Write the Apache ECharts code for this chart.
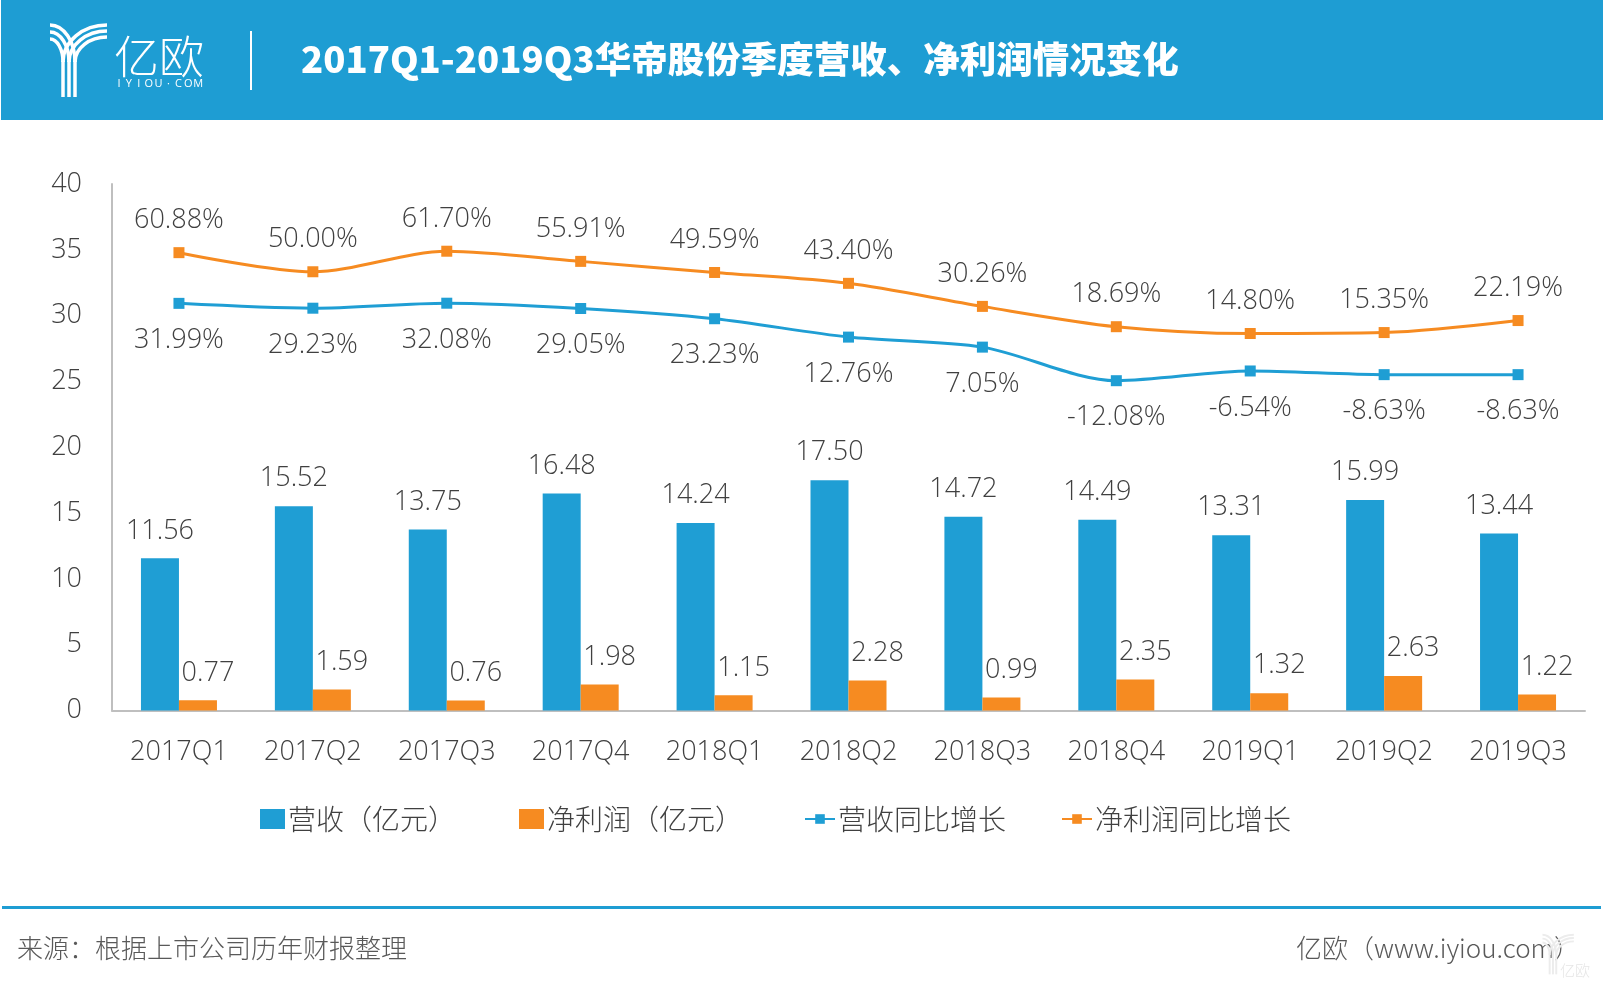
<!DOCTYPE html>
<html><head><meta charset="utf-8">
<script src="https://cdn.jsdelivr.net/npm/echarts/dist/echarts.min.js"></script>
<style>html,body{margin:0;padding:0;background:#fff}#c{width:1603px;height:986px}</style>
</head><body><div id="c"></div>
<script>
const categories = ['2017Q1','2017Q2','2017Q3','2017Q4','2018Q1','2018Q2','2018Q3','2018Q4','2019Q1','2019Q2','2019Q3'];
const revenue = [11.56, 15.52, 13.75, 16.48, 14.24, 17.50, 14.72, 14.49, 13.31, 15.99, 13.44];
const profit = [0.77, 1.59, 0.76, 1.98, 1.15, 2.28, 0.99, 2.35, 1.32, 2.63, 1.22];
const revenueGrowth = [31.99, 29.23, 32.08, 29.05, 23.23, 12.76, 7.05, -12.08, -6.54, -8.63, -8.63];
const profitGrowth = [60.88, 50.00, 61.70, 55.91, 49.59, 43.40, 30.26, 18.69, 14.80, 15.35, 22.19];
const seriesNames = ['营收（亿元）', '净利润（亿元）', '营收同比增长', '净利润同比增长'];
const titleText = '2017Q1-2019Q3华帝股份季度营收、净利润情况变化';
const sourceText = '来源：根据上市公司历年财报整理';
const siteText = '亿欧（www.iyiou.com）';
const brandText = '亿欧';
const brandSub = 'IYIOU·COM';

const BLUE = '#1f9ed4', ORANGE = '#f68b21', TXT = '#404040';
const NUM_FONT = "'Open Sans','Noto Sans CJK SC',sans-serif";
const CJK_FONT = "'Noto Sans CJK SC','Open Sans',sans-serif";

const chart = echarts.init(document.getElementById('c'), null, {renderer: 'canvas'});

// logo: a "Y" drawn with three parallel strokes
function logoParts(color, lw) {
  const parts = [];
  const k = 0.5523, cy = 62;
  const stems = [63, 69, 75];
  for (let i = 0; i < 3; i++) {
    const sx = stems[i];
    parts.push({type: 'line', shape: {x1: sx, y1: cy - 1, x2: sx, y2: 97}, style: {stroke: color, lineWidth: lw}});
    // right arm (leftmost stem is outermost)
    const rrx = 107 - sx, rry = 37 - 6 * i;
    parts.push({type: 'bezierCurve', shape: {x1: sx, y1: cy, cpx1: sx, cpy1: cy - k * rry, cpx2: 107 - k * rrx, cpy2: cy - rry, x2: 107, y2: cy - rry}, style: {stroke: color, lineWidth: lw, fill: null}});
    // left arm (rightmost stem is outermost)
    const lrx = sx - 50, lry = 23 + 7 * i;
    parts.push({type: 'bezierCurve', shape: {x1: sx, y1: cy, cpx1: sx, cpy1: cy - k * lry, cpx2: 50 + k * lrx, cpy2: cy - lry, x2: 50, y2: cy - lry}, style: {stroke: color, lineWidth: lw, fill: null}});
  }
  return parts;
}

const subChars = [];
for (let i = 0; i < brandSub.length; i++) {
  subChars.push({type: 'text', style: {x: 119 + i * 9.9, y: 84, text: brandSub[i], font: "11px 'Open Sans'", fill: '#fff', textAlign: 'center', align: 'center', textVerticalAlign: 'middle', verticalAlign: 'middle'}});
}

const legendBase = {
  orient: 'horizontal', itemGap: 0,
  textStyle: {fontSize: 28, color: TXT, fontFamily: CJK_FONT, fontWeight: 300, padding: [0, 0, 0, -2]}
};

chart.setOption({
  animation: false,
  backgroundColor: '#fff',
  grid: {left: 112, right: 18, top: 184, bottom: 275.5, containLabel: false},
  xAxis: {
    type: 'category', data: categories,
    axisLine: {show: true, lineStyle: {color: '#bfbfbf', width: 2}},
    axisTick: {show: false},
    axisLabel: {fontSize: 27, color: TXT, fontFamily: NUM_FONT, fontWeight: 300, margin: 28}
  },
  yAxis: [{
    type: 'value', min: 0, max: 40, interval: 5,
    axisLine: {show: true, lineStyle: {color: '#bfbfbf', width: 2}},
    axisTick: {show: false},
    splitLine: {show: false},
    axisLabel: {fontSize: 27, color: TXT, fontFamily: NUM_FONT, fontWeight: 300, margin: 30}
  }, {
    type: 'value', min: -200, max: 100, show: false, splitLine: {show: false}
  }],
  legend: [
    Object.assign({}, legendBase, {left: 255, top: 800, data: [{name: seriesNames[0], icon: 'rect'}], itemWidth: 25, itemHeight: 20}),
    Object.assign({}, legendBase, {left: 514, top: 800, data: [{name: seriesNames[1], icon: 'rect'}], itemWidth: 25, itemHeight: 20}),
    Object.assign({}, legendBase, {left: 799, top: 800, data: [seriesNames[2]], itemWidth: 30, itemHeight: 12}),
    Object.assign({}, legendBase, {left: 1056, top: 800, data: [seriesNames[3]], itemWidth: 30, itemHeight: 12})
  ],
  series: [
    {
      name: seriesNames[0], type: 'bar', data: revenue, barWidth: 38, barGap: '0%',
      itemStyle: {color: BLUE},
      label: {show: true, position: 'top', distance: 14, fontSize: 27, color: TXT, fontFamily: NUM_FONT, fontWeight: 300,
        formatter: p => p.value.toFixed(2)}
    },
    {
      name: seriesNames[1], type: 'bar', data: profit, barWidth: 38,
      itemStyle: {color: ORANGE},
      label: {show: true, position: 'top', distance: 14, offset: [10, 0], fontSize: 27, color: TXT, fontFamily: NUM_FONT, fontWeight: 300,
        formatter: p => p.value.toFixed(2)}
    },
    {
      name: seriesNames[2], type: 'line', yAxisIndex: 1, data: revenueGrowth, smooth: 0.3,
      symbol: 'rect', symbolSize: 11, showAllSymbol: true,
      lineStyle: {color: BLUE, width: 3}, itemStyle: {color: BLUE},
      label: {show: true, position: 'bottom', distance: 18, fontSize: 27, color: TXT, fontFamily: NUM_FONT, fontWeight: 300,
        formatter: p => p.value.toFixed(2) + '%'}
    },
    {
      name: seriesNames[3], type: 'line', yAxisIndex: 1, data: profitGrowth, smooth: 0.3,
      symbol: 'rect', symbolSize: 11, showAllSymbol: true,
      lineStyle: {color: ORANGE, width: 3}, itemStyle: {color: ORANGE},
      label: {show: true, position: 'top', distance: 13, fontSize: 27, color: TXT, fontFamily: NUM_FONT, fontWeight: 300,
        formatter: p => p.value.toFixed(2) + '%'}
    }
  ],
  graphic: [
    {type: 'rect', shape: {x: 1, y: 0, width: 1602, height: 120}, style: {fill: '#1e9dd3'}, z: -1},
    {type: 'group', children: logoParts('#fff', 3.5)},
    {type: 'text', style: {x: 114, y: 57, text: brandText, font: "200 45px 'Noto Sans CJK SC'", fill: '#fff', textVerticalAlign: 'middle', verticalAlign: 'middle'}},
    {type: 'group', children: subChars},
    {type: 'line', shape: {x1: 251, y1: 31, x2: 251, y2: 90}, style: {stroke: '#fff', lineWidth: 2}},
    {type: 'text', style: {x: 301, y: 59, text: titleText, font: "900 36.5px 'Noto Sans CJK SC'", fill: '#fff', textVerticalAlign: 'middle', verticalAlign: 'middle'}},
    {type: 'rect', shape: {x: 2, y: 906, width: 1599, height: 3}, style: {fill: '#1e9dd3'}},
    {type: 'text', style: {x: 17, y: 948, text: sourceText, font: "300 26px 'Noto Sans CJK SC'", fill: '#595959', textVerticalAlign: 'middle', verticalAlign: 'middle'}},
    {type: 'text', style: {x: 1296, y: 948, text: siteText, font: "300 26px 'Noto Sans CJK SC'", fill: '#595959', textVerticalAlign: 'middle', verticalAlign: 'middle'}},
    {type: 'group', x: 1515, y: 921, scaleX: 0.55, scaleY: 0.55, children: logoParts('#ececec', 3.5), z: -2},
    {type: 'text', style: {x: 1560, y: 970, text: brandText, font: "200 15px 'Noto Sans CJK SC'", fill: '#e6e6e6', textVerticalAlign: 'middle', verticalAlign: 'middle'}, z: -2}
  ]
});
</script>
</body></html>
